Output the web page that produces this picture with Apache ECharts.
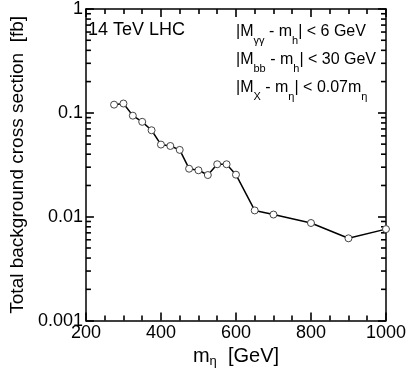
<!DOCTYPE html>
<html>
<head>
<meta charset="utf-8">
<script src="https://cdn.jsdelivr.net/npm/echarts@6/dist/echarts.min.js"></script>
<style>
  html, body { margin: 0; padding: 0; background: #fff; }
  #chart { width: 409px; height: 373px; }
</style>
</head>
<body>
<div id="chart"></div>
<script>
// eta mass points [GeV] and total background cross section [fb]
const massEta = [275, 300, 325, 350, 375, 400, 425, 450, 475, 500, 525, 550, 575, 600, 650, 700, 800, 900, 1000];
const crossSection = [0.12, 0.123, 0.094, 0.082, 0.068, 0.0495, 0.048, 0.044, 0.029, 0.028, 0.0252, 0.032, 0.032, 0.0254, 0.0115, 0.0105, 0.0087, 0.0062, 0.0076];

// minor ticks for the log axis (2..9 per decade)
const yMinorTicks = [
  0.002, 0.003, 0.004, 0.005, 0.006, 0.007, 0.008, 0.009,
  0.02, 0.03, 0.04, 0.05, 0.06, 0.07, 0.08, 0.09,
  0.2, 0.3, 0.4, 0.5, 0.6, 0.7, 0.8, 0.9
];

const FONT = 'Liberation Sans, Arial, Helvetica, sans-serif';
const X_MIN = 200, X_MAX = 1000;

const chart = echarts.init(document.getElementById('chart'), null, { renderer: 'canvas' });

const xAxisBase = {
  type: 'value',
  min: X_MIN,
  max: X_MAX,
  interval: 200,
  axisLine: { show: true, onZero: false, lineStyle: { color: '#000', width: 1.5 } },
  axisTick: { show: true, inside: true, length: 8, lineStyle: { color: '#000', width: 1.6 } },
  minorTick: { show: true, splitNumber: 4, length: 5, lineStyle: { color: '#000', width: 1.6 } },
  splitLine: { show: false },
  minorSplitLine: { show: false }
};

const yAxisBase = {
  type: 'log',
  logBase: 10,
  min: 0.001,
  max: 1,
  axisLine: { show: true, onZero: false, lineStyle: { color: '#000', width: 1.5 } },
  axisTick: { show: true, inside: true, length: 8, lineStyle: { color: '#000', width: 1.6 } },
  splitLine: { show: false }
};

const option = {
  backgroundColor: '#fff',
  animation: false,
  textStyle: { fontFamily: FONT },
  grid: { left: 71, right: 22, top: 9, bottom: 50 },
  xAxis: [
    Object.assign({}, xAxisBase, {
      position: 'bottom',
      axisLabel: { color: '#000', fontSize: 18, fontFamily: FONT, margin: 3, formatter: v => String(v) },
      name: '{m|m}{s|η}  [GeV]',
      nameLocation: 'middle',
      nameGap: 20,
      nameTextStyle: {
        color: '#000', fontSize: 20, fontFamily: FONT,
        rich: {
          m: { fontSize: 20, fontFamily: FONT, color: '#000' },
          s: { fontSize: 13, fontFamily: FONT, color: '#000', verticalAlign: 'bottom', padding: [10, 0, 0, 0] }
        }
      }
    }),
    Object.assign({}, xAxisBase, { position: 'top', axisLabel: { show: false } })
  ],
  yAxis: [
    Object.assign({}, yAxisBase, {
      position: 'left',
      axisLabel: {
        color: '#000', fontSize: 18, fontFamily: FONT, margin: 3,
        formatter: v => String(+v.toPrecision(1))
      },
      name: 'Total background cross section  [fb]',
      nameLocation: 'middle',
      nameGap: 51,
      nameTextStyle: { color: '#000', fontSize: 19, fontFamily: FONT }
    }),
    Object.assign({}, yAxisBase, { position: 'right', axisLabel: { show: false } })
  ],
  graphic: [
    {
      type: 'text', left: 88, top: 21,
      style: { text: '14 TeV LHC', font: '18px ' + FONT, fill: '#000' }
    },
    {
      type: 'text', left: 236, top: 18,
      style: {
        text: '|M{s|γγ} - m{s|h}| < 6 GeV\n|M{s|bb} - m{s|h}| < 30 GeV\n|M{s|X} - m{s|η}| < 0.07m{s|η}',
        font: '16px ' + FONT,
        fill: '#000',
        lineHeight: 28,
        rich: {
          s: { fontSize: 11, fontFamily: FONT, fill: '#000', verticalAlign: 'bottom', lineHeight: 20 }
        }
      }
    }
  ],
  series: [
    {
      type: 'line',
      data: massEta.map((m, i) => [m, crossSection[i]]),
      symbol: 'circle',
      symbolSize: 7,
      showAllSymbol: true,
      lineStyle: { color: '#000', width: 1.5 },
      itemStyle: { color: '#fff', borderColor: '#444', borderWidth: 1 },
      z: 3
    },
    {
      type: 'custom',
      silent: true,
      clip: false,
      data: yMinorTicks.map(v => [X_MIN, v]),
      renderItem: (params, api) => {
        const v = api.value(1);
        const pl = api.coord([X_MIN, v]);
        const pr = api.coord([X_MAX, v]);
        const st = { stroke: '#000', lineWidth: 1.6 };
        return {
          type: 'group',
          children: [
            { type: 'line', shape: { x1: pl[0], y1: pl[1], x2: pl[0] + 5, y2: pl[1] }, style: st },
            { type: 'line', shape: { x1: pr[0], y1: pr[1], x2: pr[0] - 5, y2: pr[1] }, style: st }
          ]
        };
      },
      z: 2
    }
  ]
};

chart.setOption(option);
</script>
</body>
</html>
